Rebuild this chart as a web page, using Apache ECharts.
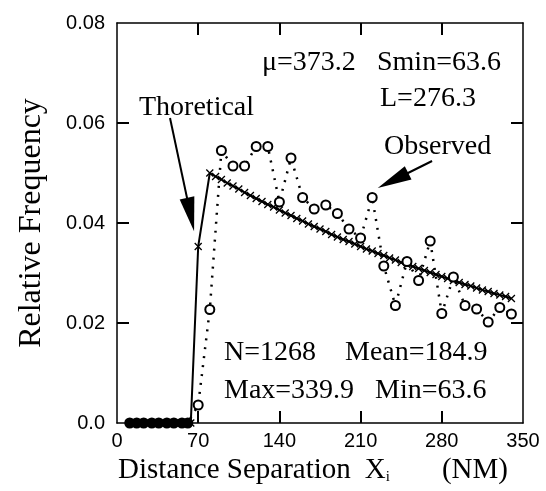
<!DOCTYPE html>
<html>
<head>
<meta charset="utf-8">
<script src="https://cdn.jsdelivr.net/npm/echarts@6/dist/echarts.min.js"></script>
<style>
html, body { margin: 0; padding: 0; background: #fff; }
#chart { width: 546px; height: 491px; }
</style>
</head>
<body>
<div id="chart"></div>
<script>
// observed relative frequency (dotted, open markers)
const obsX = [11, 17, 23, 30, 36, 43, 49, 56, 61,
	70, 80, 90, 100, 110, 120, 130, 140, 150, 160, 170, 180, 190, 200, 210, 220,
	230, 240, 250, 260, 270, 280, 290, 300, 310, 320, 330, 340];
const obsY = [0, 0, 0, 0, 0, 0, 0, 0, 0,
	0.0036, 0.0227, 0.0545, 0.0514, 0.0514, 0.0553, 0.0553, 0.0442, 0.0530, 0.0451, 0.0428, 0.0436, 0.0419, 0.0388, 0.0370, 0.0451,
	0.0314, 0.0235, 0.0323, 0.0285, 0.0364, 0.0219, 0.0292, 0.0235, 0.0228, 0.0202, 0.0231, 0.0218];

// theoretical curve (solid, x markers)
const theoX = [63.6, 70, 80, 85, 90, 95, 100, 105, 110, 115, 120, 125, 130, 135, 140, 145, 150,
	155, 160, 165, 170, 175, 180, 185, 190, 195, 200, 205, 210, 215, 220, 225, 230, 235, 240,
	245, 250, 255, 260, 265, 270, 275, 280, 285, 290, 295, 300, 305, 310, 315, 320, 325, 330, 335, 340];
const theoY = [0, 0.0353, 0.0500, 0.0493, 0.0487, 0.0480, 0.0474, 0.0468, 0.0461, 0.0455, 0.0449, 0.0443, 0.0437, 0.0432, 0.0426, 0.0420, 0.0415,
	0.0409, 0.0404, 0.0398, 0.0393, 0.0388, 0.0383, 0.0377, 0.0372, 0.0367, 0.0363, 0.0358, 0.0353, 0.0348, 0.0344, 0.0339, 0.0335, 0.0330, 0.0326,
	0.0321, 0.0317, 0.0313, 0.0309, 0.0305, 0.0301, 0.0297, 0.0293, 0.0289, 0.0285, 0.0281, 0.0277, 0.0274, 0.0270, 0.0266, 0.0263, 0.0259, 0.0256, 0.0253, 0.0249];

const xTicks = [0, 70, 140, 210, 280, 350];
const yTicks = [0, 0.02, 0.04, 0.06, 0.08];

// arrows: [tail, head] in data coords
const arrows = [
	[[45.7, 0.0610], [63.4, 0.0417]],
	[[271.6, 0.0524], [237.9, 0.0485]]
];

const obsData = obsX.map((x, i) => [x, obsY[i]]);
const theoData = theoX.map((x, i) => [x, theoY[i]]);

const serif = '"Liberation Serif", "Times New Roman", serif';
const sans = '"Liberation Sans", Arial, sans-serif';
const txtFont = '28px ' + serif;

const xMin = xTicks[0], xMax = xTicks[xTicks.length - 1];
const yMin = yTicks[0], yMax = yTicks[yTicks.length - 1];
// inward tick length (~12px) in axis units
const dx = (xMax - xMin) * 12 / 406;
const dy = (yMax - yMin) * 12 / 400;

// axisTick only drew at the corners here, so the inner ticks are drawn as markLines
const tickLines = [];
xTicks.slice(1, -1).forEach(x => {
	tickLines.push([{ coord: [x, yMin] }, { coord: [x, yMin + dy] }]);
	tickLines.push([{ coord: [x, yMax] }, { coord: [x, yMax - dy] }]);
});
yTicks.slice(1, -1).forEach(y => {
	tickLines.push([{ coord: [xMin, y] }, { coord: [xMin + dx, y] }]);
	tickLines.push([{ coord: [xMax, y] }, { coord: [xMax - dx, y] }]);
});

function note(text, left, top) {
	return { type: 'text', left: left, top: top, silent: true,
		style: { text: text, font: txtFont, fill: '#000' } };
}

// one side of the box frame
function frameAxis(pos, ticks, extra) {
	return Object.assign({
		type: 'value',
		position: pos,
		min: ticks[0],
		max: ticks[ticks.length - 1],
		interval: ticks[1] - ticks[0],
		axisLine: { show: true, onZero: false, lineStyle: { color: '#000', width: 1.5 } },
		axisTick: { show: false },
		axisLabel: { show: false },
		splitLine: { show: false }
	}, extra || {});
}

const chart = echarts.init(document.getElementById('chart'));

const option = {
	animation: false,
	backgroundColor: '#fff',
	grid: { left: 117, top: 23, width: 406, height: 400 },
	xAxis: [
		frameAxis('bottom', xTicks, {
			axisLabel: { show: true, color: '#000', fontFamily: sans, fontSize: 20, margin: 8 },
			name: '{t|Distance Separation}{g1| }{t|X}{s|i}{g2| }{t|(NM)}',
			nameLocation: 'middle',
			nameGap: 33,
			nameTextStyle: {
				padding: [0, 14, 0, 0],
				rich: {
					t: { fontFamily: serif, fontSize: 29, color: '#000' },
					g1: { width: 14 },
					g2: { width: 52 },
					s: { fontFamily: serif, fontSize: 15, color: '#000', verticalAlign: 'bottom' }
				}
			}
		}),
		frameAxis('top', xTicks)
	],
	yAxis: [
		frameAxis('left', yTicks, {
			axisLabel: {
				show: true, color: '#000', fontFamily: sans, fontSize: 20, margin: 12,
				formatter: v => v === 0 ? '0.0' : v.toFixed(2)
			},
			name: 'Relative Frequency',
			nameLocation: 'middle',
			nameGap: 69,
			nameTextStyle: { fontFamily: serif, fontSize: 32, color: '#000' }
		}),
		frameAxis('right', yTicks)
	],
	series: [
		{
			name: 'Thoretical',
			type: 'line',
			data: theoData,
			showAllSymbol: true,
			symbol: 'path://M0,0L10,10M10,0L0,10',
			symbolSize: 7,
			itemStyle: { color: '#000', borderColor: '#000', borderWidth: 1.3 },
			lineStyle: { color: '#000', width: 2 },
			z: 2,
			markLine: {
				silent: true,
				symbol: ['none', 'none'],
				lineStyle: { color: '#000', width: 2, type: 'solid' },
				label: { show: false },
				data: tickLines
			}
		},
		{
			name: 'Observed',
			type: 'line',
			data: obsData,
			showAllSymbol: true,
			symbol: 'circle',
			symbolSize: 9,
			itemStyle: {
				color: p => p.value[1] === 0 ? '#000' : '#fff',
				borderColor: '#000', borderWidth: 2
			},
			lineStyle: { color: '#000', width: 2.5, type: [2, 7] },
			z: 3,
			markLine: {
				silent: true,
				symbol: ['none', 'triangle'],
				symbolSize: [15, 34],
				lineStyle: { color: '#000', width: 2, type: 'solid' },
				itemStyle: { color: '#000' },
				label: { show: false },
				data: arrows.map(a => [{ coord: a[0] }, { coord: a[1] }])
			}
		}
	],
	graphic: [
		note('\u03bc=373.2', 262, 49),
		note('Smin=63.6', 377, 49),
		note('L=276.3', 380, 85),
		note('Thoretical', 139, 94),
		note('Observed', 384, 133),
		note('N=1268', 224, 339),
		note('Mean=184.9', 345, 339),
		note('Max=339.9', 224, 377),
		note('Min=63.6', 375, 377)
	]
};

chart.setOption(option);
</script>
</body>
</html>
